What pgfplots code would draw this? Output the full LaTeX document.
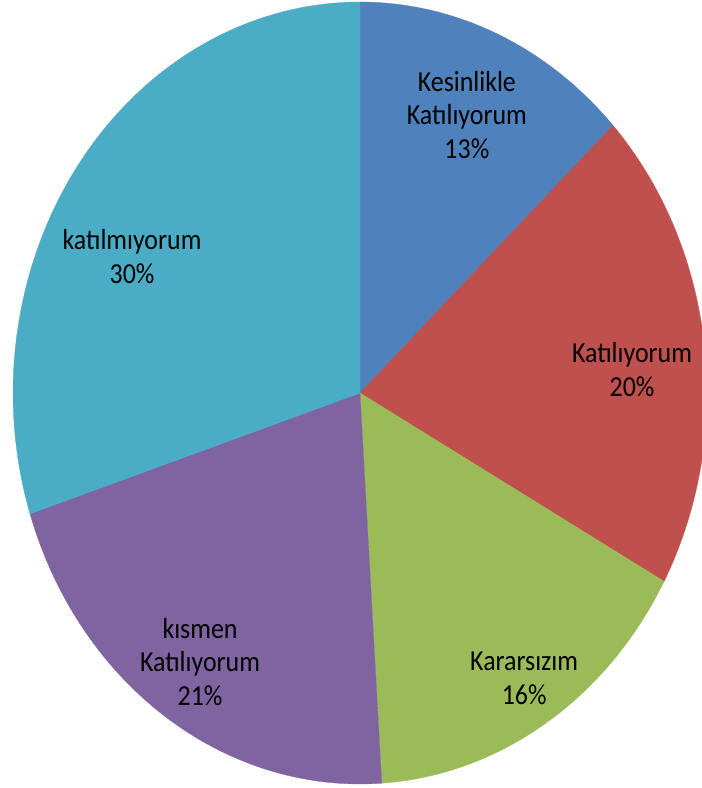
\documentclass[border=0pt]{standalone}
\usepackage{pgfplots}
\pgfplotsset{compat=1.18}
\usepackage{fontspec}
\setmainfont{Carlito}
\definecolor{c1}{HTML}{4F81BD}
\definecolor{c2}{HTML}{C0504D}
\definecolor{c3}{HTML}{9BBB59}
\definecolor{c4}{HTML}{8064A2}
\definecolor{c5}{HTML}{4BACC6}
\tikzset{lbl/.style={align=center,yscale=1.12,text=black,font=\fontsize{26}{30.4}\selectfont}}
\begin{document}
\begin{tikzpicture}
\begin{axis}[width=702bp,height=788bp,scale only axis,
  xmin=-1.0375,xmax=0.9856,ymin=-1.0102,ymax=1.0051,
  axis line style={draw=none},ticks=none,clip=true]
% shares (percent): 13, 20, 16, 21, 30 -- clockwise from 12 o'clock
\addplot[fill=c1,draw=c1,line width=0.3pt,domain=90-3.6*13:90-3.6*0,samples=80] ({cos(x)},{sin(x)}) -- (axis cs:0,0) -- cycle;
\addplot[fill=c2,draw=c2,line width=0.3pt,domain=90-3.6*33:90-3.6*13,samples=80] ({cos(x)},{sin(x)}) -- (axis cs:0,0) -- cycle;
\addplot[fill=c3,draw=c3,line width=0.3pt,domain=90-3.6*49:90-3.6*33,samples=80] ({cos(x)},{sin(x)}) -- (axis cs:0,0) -- cycle;
\addplot[fill=c4,draw=c4,line width=0.3pt,domain=90-3.6*70:90-3.6*49,samples=80] ({cos(x)},{sin(x)}) -- (axis cs:0,0) -- cycle;
\addplot[fill=c5,draw=c5,line width=0.3pt,domain=90-3.6*100:90-3.6*70,samples=100] ({cos(x)},{sin(x)}) -- (axis cs:0,0) -- cycle;
\node[lbl] at (axis cs:0.308,0.711) {Kesinlikle\\Katılıyorum\\13\%};
\node[lbl] at (axis cs:0.784,0.059) {Katılıyorum\\20\%};
\node[lbl] at (axis cs:0.473,-0.729) {Kararsızım\\16\%};
\node[lbl] at (axis cs:-0.461,-0.688) {kısmen\\Katılıyorum\\21\%};
\node[lbl] at (axis cs:-0.657,0.350) {katılmıyorum\\30\%};
\end{axis}
\end{tikzpicture}
\end{document}
